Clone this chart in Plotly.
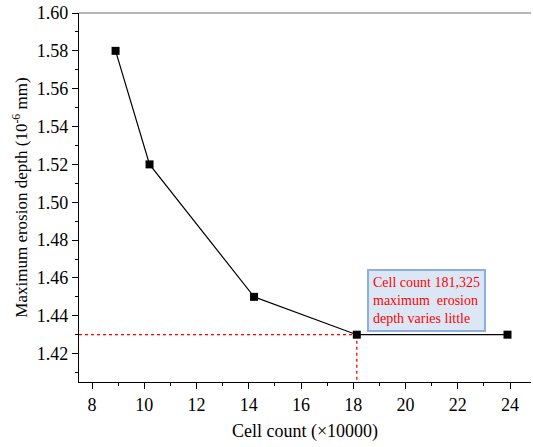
import plotly.graph_objects as go

cells = [8.9, 10.2, 14.2, 18.1325, 23.9]
depth = [1.58, 1.52, 1.45, 1.43, 1.43]
ref_x = 18.1325
ref_y = 1.43
note = "Cell count 181,325<br>maximum  erosion<br>depth varies little"

FONT = "Times New Roman"

fig = go.Figure()
fig.add_trace(go.Scatter(x=[7.5, ref_x], y=[ref_y, ref_y], mode="lines",
                         line=dict(color="red", width=1.3, dash="dot"), showlegend=False))
fig.add_trace(go.Scatter(x=[ref_x, ref_x], y=[ref_y, 1.405], mode="lines",
                         line=dict(color="red", width=1.3, dash="dot"), showlegend=False))
fig.add_trace(go.Scatter(x=cells, y=depth, mode="lines+markers",
                         line=dict(color="black", width=1.2),
                         marker=dict(symbol="square", size=8, color="black"),
                         showlegend=False))

fig.add_annotation(x=0.768, y=0.22, xref="paper", yref="paper", text=note,
                   showarrow=False, align="left", xanchor="center", yanchor="middle",
                   font=dict(family=FONT, size=14, color="red"),
                   bgcolor="#dce7f6", bordercolor="#8eaee0", borderwidth=2, borderpad=4)

fig.update_layout(
    width=533, height=447,
    margin=dict(l=79, r=2, t=13, b=65),
    plot_bgcolor="white", paper_bgcolor="white",
    font=dict(family=FONT, size=18, color="black"),
    xaxis=dict(range=[7.5, 24.8], tickmode="array", tickvals=[8, 10, 12, 14, 16, 18, 20, 22, 24],
               tickfont=dict(family=FONT, size=18, color="black"),
               ticks="outside", ticklen=6, tickwidth=1, tickcolor="black",
               minor=dict(dtick=1, tick0=0, ticks="outside", ticklen=3, tickcolor="black"),
               showline=True, linecolor="black", linewidth=1.2, mirror=False,
               showgrid=False, zeroline=False,
               title=dict(text="Cell count (×10000)", font=dict(size=18), standoff=10)),
    yaxis=dict(range=[1.405, 1.60], tickmode="array",
               tickvals=[1.42, 1.44, 1.46, 1.48, 1.50, 1.52, 1.54, 1.56, 1.58, 1.60],
               tickformat=".2f",
               tickfont=dict(family=FONT, size=18, color="black"),
               ticks="outside", ticklen=6, tickwidth=1, tickcolor="black",
               minor=dict(dtick=0.01, tick0=0, ticks="outside", ticklen=3, tickcolor="black"),
               showline=True, linecolor="black", linewidth=1.2,
               showgrid=False, zeroline=False,
               title=dict(text="Maximum erosion depth (10<sup>-6</sup> mm)", font=dict(size=17), standoff=4)),
)
fig.add_shape(type="line", xref="paper", yref="paper", x0=0, x1=1, y0=1, y1=1,
              line=dict(color="#707070", width=1.2))

fig.write_html("out.html")
